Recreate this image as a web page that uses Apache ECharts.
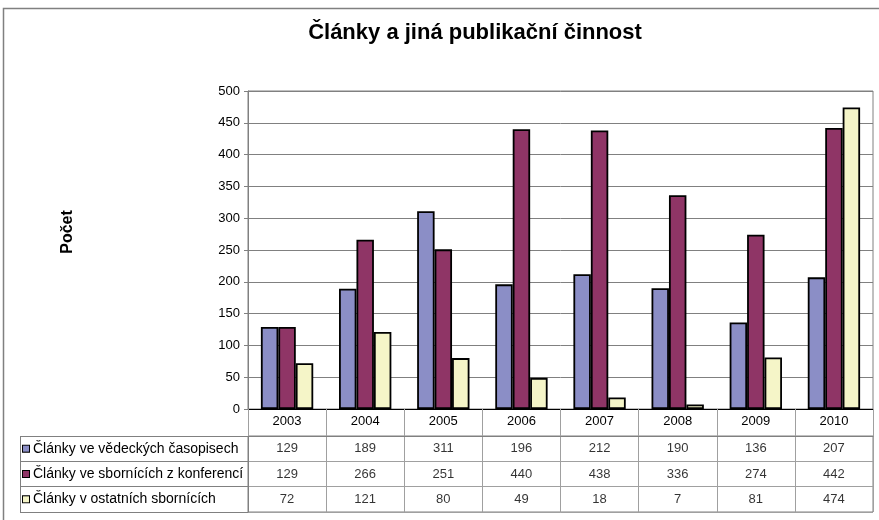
<!DOCTYPE html>
<html>
<head>
<meta charset="utf-8">
<script src="https://cdn.jsdelivr.net/npm/echarts@6/dist/echarts.min.js"></script>
<style>html,body{margin:0;padding:0;background:#fff}#c{width:879px;height:520px}</style>
</head>
<body>
<div id="c"></div>
<script>
const years = ['2003','2004','2005','2006','2007','2008','2009','2010'];
const seriesNames = ['Články ve vědeckých časopisech','Články ve sbornících z konferencí','Články v ostatních sbornících'];
const journals = [129,189,311,196,212,190,136,207];
const conferences = [129,266,251,440,438,336,274,442];
const others = [72,121,80,49,18,7,81,474];
const yTicks = {min:0, max:500, interval:50};

const values = [journals, conferences, others];
const colors = ['#8B8EC6','#8F3566','#F5F5C8'];
const FONT = "'Liberation Sans', Arial, sans-serif";

const tableData = [];
values.forEach((arr, r) => arr.forEach((v, i) => tableData.push([i, r, v])));

const rich = {};
colors.forEach((c, i) => { rich['s' + i] = {width:6, height:6, backgroundColor:c, borderColor:'#000', borderWidth:1}; });
rich.t = {fontSize:14, fontFamily:FONT, color:'#000', padding:[0,0,0,4]};

const chart = echarts.init(document.getElementById('c'), null, {renderer:'canvas'});
chart.setOption({
  animation:false,
  backgroundColor:'#fff',
  textStyle:{fontFamily:FONT},
  title:{text:'Články a jiná publikační činnost', left:470, top:17, textAlign:'center',
    textStyle:{fontSize:22, fontWeight:'bold', color:'#000', fontFamily:FONT}},
  grid:[
    {left:248, right:6, top:91, height:318, show:true, borderColor:'#808080', borderWidth:1},
    {left:248, right:6, top:436, height:76, show:true, borderColor:'#808080', borderWidth:1}
  ],
  xAxis:[
    {type:'category', gridIndex:0, data:years,
     axisLine:{show:true, lineStyle:{color:'#000', width:1}},
     axisTick:{show:true, interval:0, length:27, lineStyle:{color:'#a0a0a0'}},
     axisLabel:{margin:6, fontSize:13, color:'#000', fontFamily:FONT, interval:0}},
    {type:'category', gridIndex:1, data:years, position:'top',
     axisLine:{show:true, lineStyle:{color:'#808080'}},
     axisTick:{show:false}, axisLabel:{show:false},
     splitLine:{show:true, interval:0, lineStyle:{color:'#a0a0a0'}}}
  ],
  yAxis:[
    {type:'value', gridIndex:0, min:yTicks.min, max:yTicks.max, interval:yTicks.interval,
     name:'Počet', nameLocation:'middle', nameGap:172, nameRotate:90,
     nameTextStyle:{fontSize:16, fontWeight:'bold', color:'#000', fontFamily:FONT, padding:[0,0,0,36]},
     axisLine:{show:true, lineStyle:{color:'#808080'}},
     axisTick:{show:true, length:4, lineStyle:{color:'#808080'}},
     axisLabel:{margin:8, fontSize:13, color:'#000', fontFamily:FONT},
     splitLine:{show:true, lineStyle:{color:'#808080', width:1}}},
    {type:'category', gridIndex:1, data:seriesNames, inverse:true,
     axisLine:{show:true, lineStyle:{color:'#808080'}},
     axisTick:{show:true, interval:0, length:228, lineStyle:{color:'#808080'}},
     axisLabel:{align:'left', margin:225, interval:0,
       formatter:(v, i) => '{s' + i + '|}{t|' + v + '}', rich:rich},
     splitLine:{show:true, interval:0, lineStyle:{color:'#a0a0a0'}}}
  ],
  series:[
    ...values.map((arr, i) => ({
      type:'bar', name:seriesNames[i], xAxisIndex:0, yAxisIndex:0, data:arr,
      barGap:'0%', barCategoryGap:'33%',
      itemStyle:{color:colors[i], borderColor:'#000', borderWidth:1.8}
    })),
    {type:'scatter', xAxisIndex:1, yAxisIndex:1, data:tableData, symbolSize:0,
     encode:{x:0, y:1},
     label:{show:true, position:'inside', formatter:p => String(p.value[2]),
       fontSize:13, color:'#000', fontFamily:FONT}}
  ],
  graphic:[
    {type:'polyline', shape:{points:[[3.5,520],[3.5,8.5],[879,8.5]]}, style:{stroke:'#808080', lineWidth:1.5, fill:null}},
    {type:'line', shape:{x1:20.5, y1:436, x2:20.5, y2:512}, style:{stroke:'#808080', lineWidth:1}}
  ]
});
</script>
</body>
</html>
